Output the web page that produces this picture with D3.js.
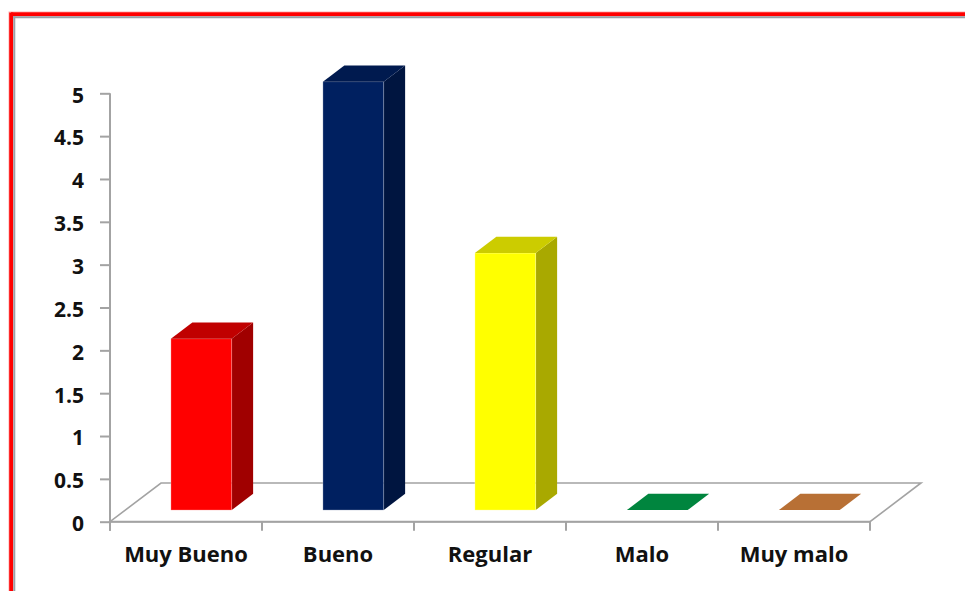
<!DOCTYPE html>
<html>
<head>
<meta charset="utf-8">
<script src="https://cdn.jsdelivr.net/npm/d3@7/dist/d3.min.js"></script>
<style>
  html, body { margin: 0; padding: 0; background: #ffffff; }
  svg { display: block; }
  text { font-family: "Open Sans", "Liberation Sans", sans-serif; font-weight: bold; fill: #111; }
</style>
</head>
<body>
<script>
// Survey answers and their counts
const categories = ["Muy Bueno", "Bueno", "Regular", "Malo", "Muy malo"];
const values = [2, 5, 3, 0, 0];
const tickValues = [0, 0.5, 1, 1.5, 2, 2.5, 3, 3.5, 4, 4.5, 5];
const tickLabels = ["0", "0.5", "1", "1.5", "2", "2.5", "3", "3.5", "4", "4.5", "5"];

// Face colours per bar: front, top, side
const palette = [
  { front: "#ff0000", top: "#c00000", side: "#a00000" },
  { front: "#002060", top: "#001a4f", side: "#001540" },
  { front: "#ffff00", top: "#cccc00", side: "#a9a900" },
  { front: "#00853e", top: "#00853e", side: "#006a31" },
  { front: "#b87035", top: "#b87035", side: "#935a2a" }
];

const W = 965, H = 591;
const svg = d3.select("body").append("svg").attr("width", W).attr("height", H);

// Frame: red rule on top and left with a thin grey line inside
svg.append("rect").attr("x", 9).attr("y", 12).attr("width", W).attr("height", H)
  .attr("fill", "none").attr("stroke", "#ffb0b0").attr("stroke-width", 1);
svg.append("line").attr("x1", 11).attr("x2", W).attr("y1", 14.2).attr("y2", 14.2)
  .attr("stroke", "#ff0000").attr("stroke-width", 4);
svg.append("line").attr("x1", 11.2).attr("x2", 11.2).attr("y1", 12.5).attr("y2", H)
  .attr("stroke", "#ff0000").attr("stroke-width", 4);
svg.append("line").attr("x1", 13.3).attr("x2", W).attr("y1", 17.2).attr("y2", 17.2)
  .attr("stroke", "#9aa0a8").attr("stroke-width", 2);
svg.append("line").attr("x1", 14.3).attr("x2", 14.3).attr("y1", 16.2).attr("y2", H)
  .attr("stroke", "#9aa0a8").attr("stroke-width", 2);

// Plot area
const x0 = 110, x1 = 870;
const x = d3.scaleBand().domain(categories).range([x0, x1])
  .paddingInner(0.6).paddingOuter(0.3);
const y = d3.scaleLinear().domain([0, 5]).range([521.7, 93.3]);

// Oblique depth projection: depth d in [0,1] across the floor
const depthX = 51, depthY = -38.7;
const px = d => d * depthX;
const py = d => d * depthY;
const zFront = 0.3, zBack = 0.72;

const grid = "#a3a3a3";

// Floor outline
const floor = [
  [x0, y(0)], [x1, y(0)], [x1 + px(1), y(0) + py(1)], [x0 + px(1), y(0) + py(1)]
];
svg.append("polygon").attr("points", floor.map(p => p.join(",")).join(" "))
  .attr("fill", "#ffffff").attr("stroke", grid).attr("stroke-width", 1.6)
  .attr("stroke-linejoin", "miter");

// Value axis
const yAxis = d3.axisLeft(y).tickValues(tickValues)
  .tickFormat((d, i) => tickLabels[i]).tickSize(10).tickPadding(16);
const gy = svg.append("g").attr("transform", `translate(${x0},0)`).call(yAxis);
gy.select(".domain").remove();
gy.selectAll(".tick line").attr("stroke", grid).attr("stroke-width", 2);
gy.selectAll(".tick text").attr("font-size", 21).attr("dy", "0.42em")
  .style("font-family", "'Open Sans', sans-serif").style("font-weight", "bold").attr("fill", "#111");
svg.append("line").attr("x1", x0).attr("x2", x0).attr("y1", y(5)).attr("y2", y(0) + 9)
  .attr("stroke", grid).attr("stroke-width", 2);

// Category axis with ticks at band boundaries
const xAxis = d3.axisBottom(x).tickSize(0).tickPadding(25);
const gx = svg.append("g").attr("transform", `translate(0,${y(0)})`).call(xAxis);
gx.select(".domain").remove();
gx.selectAll(".tick text").attr("font-size", 22)
  .style("font-family", "'Open Sans', sans-serif").style("font-weight", "bold").attr("fill", "#111");
const step = x.step();
const bounds = d3.range(categories.length + 1).map(i => x0 + i * step);
svg.selectAll("line.xtick").data(bounds).join("line").attr("class", "xtick")
  .attr("x1", d => d).attr("x2", d => d).attr("y1", y(0)).attr("y2", y(0) + 9)
  .attr("stroke", grid).attr("stroke-width", 2);
svg.append("line").attr("x1", x0).attr("x2", x1).attr("y1", y(0)).attr("y2", y(0))
  .attr("stroke", grid).attr("stroke-width", 2);

// 3D bars
const bw = x.bandwidth();
const bars = svg.append("g");
categories.forEach((c, i) => {
  const v = values[i];
  const col = palette[i];
  const fx = x(c) + px(zFront);
  const fBase = y(0) + py(zFront);
  const fTop = y(v) + py(zFront);
  const ddx = px(zBack) - px(zFront), ddy = py(zBack) - py(zFront);
  const g = bars.append("g");
  const poly = (pts, fill) => g.append("polygon")
    .attr("points", pts.map(p => p.join(",")).join(" ")).attr("fill", fill);
  if (v > 0) {
    // side face
    poly([[fx + bw, fTop], [fx + bw + ddx, fTop + ddy], [fx + bw + ddx, fBase + ddy], [fx + bw, fBase]], col.side);
    // front face
    g.append("rect").attr("x", fx).attr("y", fTop).attr("width", bw).attr("height", fBase - fTop)
      .attr("fill", col.front).attr("stroke", "rgba(255,255,255,0.35)").attr("stroke-width", 0.8);
  }
  // top face
  poly([[fx, fTop], [fx + bw, fTop], [fx + bw + ddx, fTop + ddy], [fx + ddx, fTop + ddy]], col.top);
});
</script>
</body>
</html>
